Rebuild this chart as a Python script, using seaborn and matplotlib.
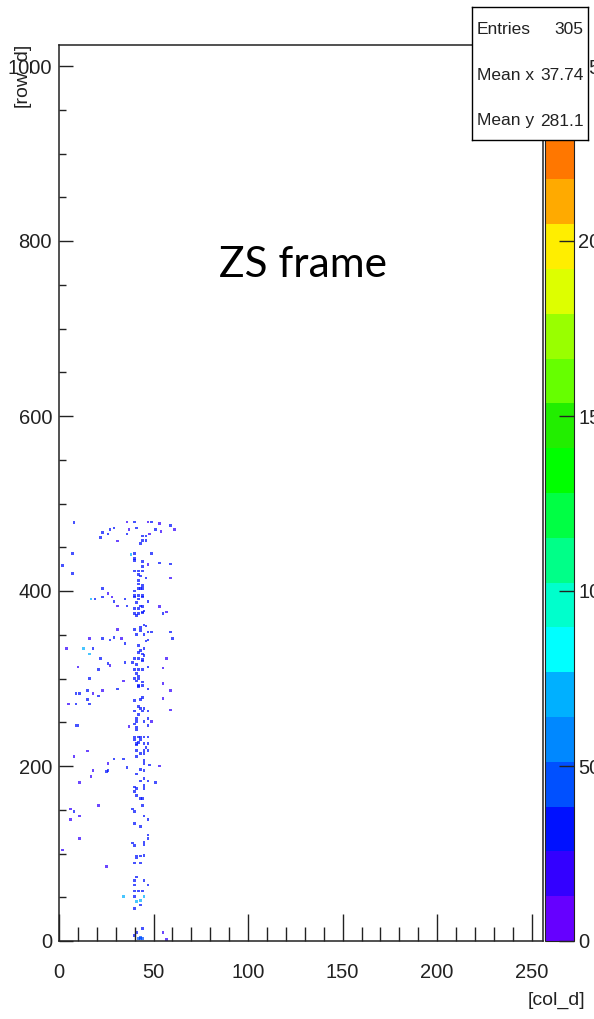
import numpy as np
import pandas as pd
import matplotlib
matplotlib.use("Agg")
import matplotlib.pyplot as plt
import seaborn as sns
from matplotlib.colors import ListedColormap, Normalize
from matplotlib.cm import ScalarMappable
from matplotlib.ticker import MultipleLocator

# ---- data: fired pixels (column, row, amplitude) ----
col_d = [8, 36, 40, 47, 49, 53, 59, 61, 29, 27, 37, 41, 51, 54, 23, 26, 36, 48, 22, 44,
         46, 44, 46, 31, 43, 40, 38, 49, 7, 40, 40, 44, 47, 53, 59, 2, 44, 40, 42, 44,
         7, 42, 43, 46, 59, 42, 44, 42, 23, 42, 43, 44, 40, 40, 42, 44, 26, 17, 19, 23,
         28, 35, 40, 44, 42, 29, 31, 36, 41, 47, 43, 44, 53, 40, 42, 44, 40, 55, 57,
         41, 42, 44, 45, 45, 46, 43, 43, 31, 40, 47, 49, 41, 45, 59, 60, 29, 16, 23, 33,
         27, 46, 47, 35, 42, 4, 13, 18, 16, 42, 43, 45, 44, 45, 40, 42, 44, 57, 22, 26,
         27, 35, 39, 41, 44, 10, 47, 40, 42, 44, 55, 21, 42, 41, 16, 34, 41, 40, 42, 44,
         42, 42, 44, 55, 31, 47, 59, 15, 23, 9, 11, 18, 21, 44, 43, 55, 15, 40, 5, 9,
         16, 42, 43, 45, 40, 44, 47, 59, 42, 41, 47,
         41, 45, 49, 9, 10, 37, 40, 47, 41, 41, 40, 42, 43, 45, 47, 40, 43, 41, 42, 45,
         47, 41, 46, 41, 45, 47, 15, 43, 45, 8, 41, 29, 34, 26, 45, 45, 48, 53, 36, 43,
         45, 18, 25, 26, 17, 41, 45, 11, 43, 47, 51, 45, 40, 41, 45, 40, 41, 43, 44, 21,
         44, 39, 40, 6, 8, 11, 45, 6, 47, 40,
         43, 11, 47, 47, 2, 39, 40, 45, 45, 41, 43, 45, 41, 25, 40, 43, 41, 40, 45, 40,
         47, 40, 42, 44, 34, 40, 45, 41, 43, 43, 40, 44, 55, 40, 41, 42, 43, 44, 43, 57]
row_d = [478, 479, 479, 479, 479, 477, 475, 470, 472, 470, 470, 472, 470, 468, 467, 465, 465, 465, 461, 463,
         463, 458, 458, 457, 454, 443, 442, 443, 443, 437, 435, 434, 430, 432, 431, 429, 428, 423, 423, 423,
         420, 419, 417, 415, 415, 412, 406, 408, 403, 403, 403, 403, 400, 395, 395, 395, 397, 391, 391, 393,
         393, 391, 393, 393, 391, 388, 383, 383, 387, 388, 383, 382, 382, 380, 380, 376, 374, 374, 376,
         372, 374, 375, 377, 361, 360, 358, 355, 356, 356, 353, 353, 350, 350, 353, 346, 347, 346, 346, 346,
         344, 343, 344, 340, 338, 334, 334, 334, 328, 330, 332, 334, 328, 326, 323, 323, 322, 323, 323, 317,
         315, 318, 318, 316, 320, 313, 313, 310, 310, 310, 312, 310, 303, 306, 300, 297, 297, 300, 300, 296,
         292, 291, 292, 294, 288, 288, 286, 286, 286, 283, 283, 283, 280, 278, 276, 277, 276, 275, 271, 271,
         271, 268, 266, 266, 263, 263, 263, 264, 259, 254, 254,
         251, 251, 251, 246, 246, 245, 248, 246, 244, 241, 233, 233, 233, 233, 233, 230, 230, 226, 227, 226,
         226, 224, 221, 218, 218, 218, 217, 214, 214, 211, 211, 208, 208, 203, 206, 203, 201, 200, 198, 196,
         195, 195, 194, 195, 188, 191, 186, 181, 183, 183, 181, 178, 176, 174, 174, 171, 166, 163, 163, 155,
         155, 151, 148, 151, 148, 143, 143, 139, 139, 134,
         131, 117, 121, 117, 104, 112, 109, 113, 110, 97, 97, 98, 95, 85, 89, 89, 73, 69, 69, 64,
         64, 57, 57, 57, 51, 51, 51, 45, 46, 41, 37, 14, 10, 6, 10, 3, 3, 3, 4, 2]
adc = [30, 20, 30, 20, 30, 20, 30, 20, 30, 30, 20, 30, 30, 20, 30, 30, 30, 20, 30, 30,
       30, 30, 30, 20, 30, 30, 70, 30, 30, 30, 30, 30, 20, 30, 30, 30, 30, 30, 30, 30,
       30, 30, 30, 30, 20, 30, 30, 30, 30, 30, 30, 30, 30, 30, 30, 30, 20, 70, 30, 30,
       20, 30, 30, 30, 30, 30, 20, 30, 30, 30, 30, 30, 20, 30, 30, 30, 30, 30, 20,
       30, 30, 30, 30, 30, 30, 30, 30, 20, 30, 30, 30, 30, 30, 30, 30, 30, 20, 30, 20,
       30, 30, 30, 30, 30, 20, 70, 30, 70, 30, 30, 30, 30, 30, 30, 30, 30, 20, 30, 30,
       20, 30, 30, 30, 30, 20, 30, 30, 30, 30, 20, 30, 30, 30, 30, 20, 30, 30, 30, 30,
       30, 30, 30, 20, 30, 30, 20, 30, 20, 30, 30, 20, 30, 30, 30, 20, 30, 30, 20, 30,
       30, 30, 30, 30, 30, 30, 30, 20, 30, 30, 30,
       30, 30, 20, 30, 30, 20, 30, 30, 30, 30, 30, 30, 30, 30, 30, 30, 30, 30, 30, 30,
       30, 30, 30, 30, 30, 30, 20, 30, 30, 20, 30, 30, 30, 20, 30, 30, 30, 20, 30, 30,
       30, 20, 30, 30, 20, 30, 30, 20, 30, 30, 30, 30, 30, 30, 30, 30, 30, 30, 30, 20,
       30, 30, 30, 20, 30, 20, 30, 20, 30, 30,
       30, 20, 30, 30, 20, 30, 30, 30, 30, 30, 30, 30, 30, 20, 30, 30, 30, 30, 30, 30,
       30, 30, 30, 30, 70, 30, 70, 70, 70, 30, 30, 30, 20, 30, 30, 45, 45, 45, 45, 20]

# ROOT-like 20-level rainbow palette
palette_colors = ["#6600ff", "#3300ff", "#0011ff", "#0050ff", "#0088ff", "#00b0ff",
                  "#00ffff", "#00ffcc", "#00ff88", "#00ff44", "#00ff00", "#22ee00",
                  "#66ff00", "#99ff00", "#ddff00", "#ffee00", "#ffaa00", "#ff7700",
                  "#ff4400", "#ff0000"]
z_max = 256
x_max = 256
y_max = 1024

stats_labels = ["Entries", "Mean x", "Mean y"]
stats_values = ["305", "37.74", "281.1"]

df = pd.DataFrame({"col_d": col_d, "row_d": row_d, "adc": adc})
cmap = ListedColormap(palette_colors)
norm = Normalize(vmin=0, vmax=z_max)

plt.rcParams["font.family"] = ["Liberation Sans", "DejaVu Sans"]
W, H = 594, 1019
fig = plt.figure(figsize=(W / 100, H / 100), dpi=100)
fig.patch.set_facecolor("white")

ax_l, ax_r, ax_t, ax_b = 59, 543, 45, 941
ax = fig.add_axes([ax_l / W, 1 - ax_b / H, (ax_r - ax_l) / W, (ax_b - ax_t) / H])
sns.scatterplot(data=df, x="col_d", y="row_d", hue="adc", palette=cmap, hue_norm=norm,
                marker="s", s=3.6, linewidth=0, alpha=0.72, legend=False, ax=ax)
ax.set_xlim(0, x_max)
ax.set_ylim(0, y_max)
ax.set_xlabel("")
ax.set_ylabel("")
ax.xaxis.set_major_locator(MultipleLocator(50))
ax.xaxis.set_minor_locator(MultipleLocator(10))
ax.yaxis.set_major_locator(MultipleLocator(200))
ax.yaxis.set_minor_locator(MultipleLocator(50))
tc = "#222222"
ax.tick_params(axis="x", which="major", direction="in", length=19.5, width=1.0, color=tc,
               labelsize=14.5, pad=15.5, labelcolor=tc)
ax.tick_params(axis="x", which="minor", direction="in", length=10, width=1.0, color=tc)
ax.tick_params(axis="y", which="major", direction="in", length=10, width=1.0, color=tc,
               labelsize=14.5, pad=5, labelcolor=tc)
ax.tick_params(axis="y", which="minor", direction="in", length=5, width=1.0, color=tc)
for sp in ax.spines.values():
    sp.set_color(tc)
    sp.set_linewidth(1.1)

# colour bar
cax = fig.add_axes([545 / W, 1 - ax_b / H, 29 / W, (ax_b - ax_t) / H])
cb = fig.colorbar(ScalarMappable(norm=norm, cmap=cmap), cax=cax)
cb.set_ticks([0, 50, 100, 150, 200, 250])
cb.outline.set_edgecolor(tc)
cb.outline.set_linewidth(0.8)
cax.tick_params(direction="in", length=11, width=1.0, color=tc, labelsize=14.5, pad=3,
                labelcolor=tc)

# axis titles
fig.text(585 / W, 1 - 1000 / H, "[col_d]", ha="right", va="center", fontsize=14, color=tc)
fig.text(22 / W, 1 - 43 / H, "[row_d]", ha="center", va="top", rotation=90, fontsize=14,
         color=tc)

# annotation
fig.text(303 / W, 1 - 277 / H, "ZS frame", ha="center", va="baseline", fontsize=30.5,
         family=["Lato", "DejaVu Sans"], color="black")

# stats box
sx0, sx1, sy0, sy1 = 471.5, 587.5, 7, 140
sax = fig.add_axes([sx0 / W, 1 - sy1 / H, (sx1 - sx0) / W, (sy1 - sy0) / H], zorder=10)
sax.set_facecolor("white")
sax.set_xticks([])
sax.set_yticks([])
for sp in sax.spines.values():
    sp.set_color("black")
    sp.set_linewidth(1.0)
for i, (lab, val) in enumerate(zip(stats_labels, stats_values)):
    yc = (29 + 46 * i)
    yf = 1 - (yc - sy0) / (sy1 - sy0)
    sax.text(5.5 / (sx1 - sx0), yf, lab, transform=sax.transAxes, ha="left", va="center",
             fontsize=12.5, color=tc)
    sax.text(1 - 4 / (sx1 - sx0), yf, val, transform=sax.transAxes, ha="right", va="center",
             fontsize=12.5, color=tc)

fig.savefig("out.png", dpi=100, facecolor="white")
